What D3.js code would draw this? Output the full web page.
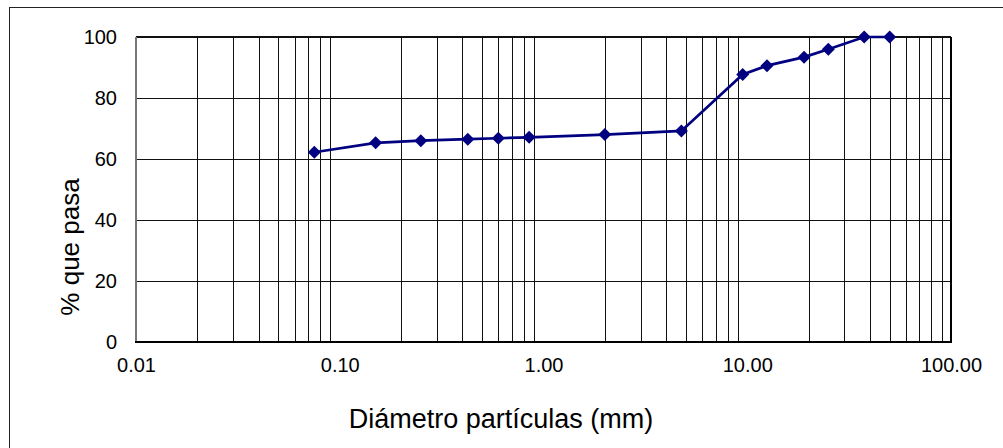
<!DOCTYPE html>
<html>
<head>
<meta charset="utf-8">
<script src="https://cdn.jsdelivr.net/npm/d3@7"></script>
<style>
  body { margin: 0; background: #fff; }
  text { font-family: "Liberation Sans", Arial, sans-serif; fill: #000; }
</style>
</head>
<body>
<div id="chart"></div>
<script>
// sieve sizes (mm) and percent passing
var diameters = [0.075, 0.15, 0.25, 0.425, 0.6, 0.85, 2.0, 4.75, 9.5, 12.5, 19, 25, 37.5, 50];
var passing = [62.2, 65.3, 66.0, 66.5, 66.8, 67.1, 68.0, 69.2, 87.7, 90.6, 93.4, 96.0, 100, 100];
var xTicks = [0.01, 0.1, 1, 10, 100];
var yTicks = [0, 20, 40, 60, 80, 100];

var width = 1003, height = 448;
var margin = { left: 136, top: 37, right: 1003 - 951, bottom: 448 - 342 };

var svg = d3.select("#chart").append("svg")
  .attr("width", width).attr("height", height);

// outer chart border (right/bottom fall outside the picture)
svg.append("rect")
  .attr("x", 9.5).attr("y", 7.5)
  .attr("width", width + 20).attr("height", height + 20)
  .attr("fill", "none").attr("stroke", "#222").attr("stroke-width", 1);

var x = d3.scaleLog().domain([0.01, 100]).range([margin.left, width - margin.right]);
var y = d3.scaleLinear().domain([0, 100]).range([height - margin.bottom, margin.top]);

var grid = svg.append("g").attr("shape-rendering", "crispEdges");

// vertical log grid: 1..9 in each decade
var minor = [];
for (var e = -2; e < 2; e++) {
  for (var k = 2; k <= 9; k++) minor.push(k * Math.pow(10, e));
}
grid.selectAll(".vgrid").data(minor).enter().append("line")
  .attr("class", "vgrid")
  .attr("x1", function (d) { return Math.round(x(d)) + 0.5; })
  .attr("x2", function (d) { return Math.round(x(d)) + 0.5; })
  .attr("y1", y(100)).attr("y2", y(0))
  .attr("stroke", "#111").attr("stroke-width", 1);

grid.selectAll(".hgrid").data(yTicks.slice(1, -1)).enter().append("line")
  .attr("class", "hgrid")
  .attr("x1", x(0.01)).attr("x2", x(100))
  .attr("y1", function (d) { return Math.round(y(d)) + 0.5; })
  .attr("y2", function (d) { return Math.round(y(d)) + 0.5; })
  .attr("stroke", "#111").attr("stroke-width", 1);

// plot area frame
grid.append("line").attr("x1", x(0.01)).attr("x2", x(100)).attr("y1", y(100)).attr("y2", y(100))
  .attr("stroke", "#111").attr("stroke-width", 2);
grid.append("line").attr("x1", x(100)).attr("x2", x(100)).attr("y1", y(100)).attr("y2", y(0))
  .attr("stroke", "#000").attr("stroke-width", 2);
grid.append("line").attr("x1", x(0.01)).attr("x2", x(0.01)).attr("y1", y(100)).attr("y2", y(0))
  .attr("stroke", "#777").attr("stroke-width", 2);
grid.append("line").attr("x1", x(0.01) - 1).attr("x2", x(100) + 1).attr("y1", y(0)).attr("y2", y(0))
  .attr("stroke", "#000").attr("stroke-width", 2);

// axes (labels only)
var xAxis = svg.append("g")
  .attr("transform", "translate(0," + y(0) + ")")
  .call(d3.axisBottom(x).tickValues(xTicks).tickSize(0).tickPadding(16)
    .tickFormat(d3.format(".2f")));
xAxis.select(".domain").remove();
xAxis.selectAll("text").style("font-size", "20px")
  .style("font-family", "'Liberation Sans', Arial, sans-serif").attr("fill", "#000");

var yAxis = svg.append("g")
  .attr("transform", "translate(" + x(0.01) + ",0)")
  .call(d3.axisLeft(y).tickValues(yTicks).tickSize(0).tickPadding(19));
yAxis.select(".domain").remove();
yAxis.selectAll("text").style("font-size", "20px")
  .style("font-family", "'Liberation Sans', Arial, sans-serif").attr("fill", "#000");

// axis titles
svg.append("text")
  .attr("x", 501).attr("y", 428)
  .attr("text-anchor", "middle")
  .style("font-size", "27px")
  .text("Diámetro partículas (mm)");

svg.append("text")
  .attr("transform", "translate(79,247) rotate(-90)")
  .attr("text-anchor", "middle")
  .style("font-size", "26px")
  .text("% que pasa");

// curve
var pts = diameters.map(function (d, i) { return [d, passing[i]]; });
svg.append("path")
  .datum(pts)
  .attr("fill", "none")
  .attr("stroke", "#000080")
  .attr("stroke-width", 2.7)
  .attr("d", d3.line().x(function (d) { return x(d[0]); }).y(function (d) { return y(d[1]); }));

svg.selectAll(".pt").data(pts).enter().append("path")
  .attr("class", "pt")
  .attr("transform", function (d) { return "translate(" + x(d[0]) + "," + y(d[1]) + ")"; })
  .attr("d", "M0,-6.5L6.5,0L0,6.5L-6.5,0Z")
  .attr("fill", "#000080");
</script>
</body>
</html>
